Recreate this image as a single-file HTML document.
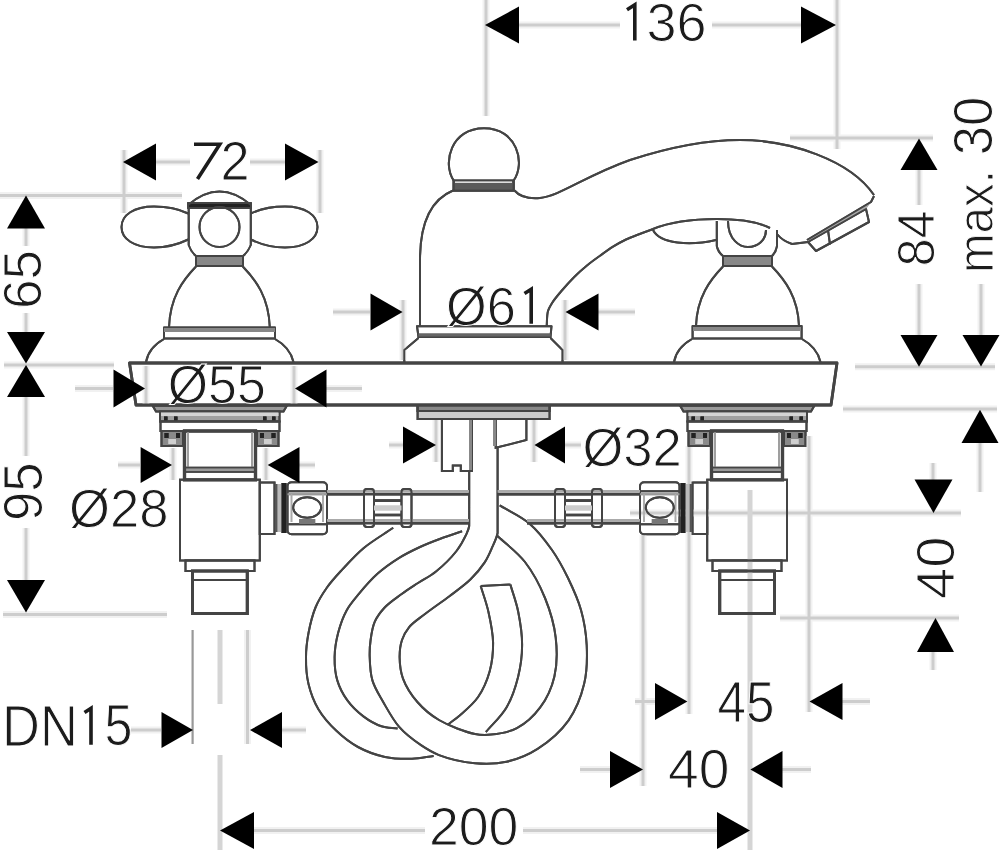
<!DOCTYPE html>
<html><head><meta charset="utf-8"><style>
html,body{margin:0;padding:0;background:#fff;}
svg{display:block;}
#wrap{width:1000px;height:850px;}
text{font-family:"Liberation Sans",sans-serif;fill:#1c1c1c;stroke:#fff;stroke-width:1px;}
</style></head><body><div id="wrap">
<svg width="1000" height="850" viewBox="0 0 1000 850">
<!-- UNDER DECK -->
<g id="under" stroke="#444" stroke-width="2" fill="none">
<!-- hose -->
<g id="hose"><path d="M393.2 527.8C383.3 534.6 372.3 540.9 363.5 548.2C355.5 554.9 348.8 562.5 342.4 569.4C336.7 575.6 331.3 581.3 326.8 587.8C322.4 594.1 318.5 600.3 315.5 607.5C312.3 615.3 310.1 624.6 308.5 633.0C307.0 641.1 306.0 648.8 306.0 657.0C305.9 665.7 306.4 675.3 308.5 684.0C310.6 692.7 313.8 701.5 318.4 709.2C323.1 717.1 329.7 724.5 336.4 730.8C342.9 737.0 350.1 742.7 358.0 747.0C366.2 751.5 375.9 755.0 385.0 756.9C393.9 758.8 403.5 758.9 412.0 758.7C419.6 758.5 426.4 756.9 433.6 756.0"/><path d="M462.1 531.3C455.1 533.7 448.0 535.9 441.0 538.5C434.0 541.1 426.9 543.8 420.0 547.0C412.9 550.3 405.7 553.8 398.8 558.1C391.6 562.6 384.2 567.8 377.7 573.6C371.1 579.5 364.7 586.9 359.3 593.4C354.5 599.2 350.1 604.1 346.6 610.4C342.9 617.2 340.1 625.2 338.1 633.0C336.1 640.8 334.7 649.0 334.6 657.0C334.5 664.8 335.1 673.1 337.3 680.4C339.4 687.5 342.9 694.2 347.2 700.2C351.6 706.3 357.5 712.0 363.4 716.4C369.0 720.6 375.4 724.3 381.4 726.3C386.8 728.1 392.2 727.8 397.6 728.6"/><path d="M469.2 470V526C468.7 529.2 467.8 531.0 466.4 534.1C464.2 538.8 460.8 545.4 456.5 551.0C451.2 557.8 442.9 565.9 436.0 571.5C430.1 576.3 423.8 579.2 418.0 583.0C412.4 586.7 407.1 590.0 401.7 594.0C396.0 598.2 389.3 602.6 384.7 607.5C380.6 611.9 377.1 616.4 374.8 621.7C372.4 627.2 371.4 634.0 370.6 640.0C369.8 645.7 369.5 650.9 369.7 657.0C369.9 664.2 370.2 672.9 372.4 680.4C374.6 688.0 379.0 694.6 383.2 702.0C387.9 710.2 393.0 719.9 399.4 727.2C405.6 734.3 413.9 740.4 421.0 745.2C427.1 749.3 431.7 752.3 439.0 755.1C448.7 758.8 463.3 762.2 475.0 763.2C485.8 764.1 496.2 764.0 506.5 761.7C517.1 759.3 527.8 755.1 537.6 748.8C548.6 741.8 560.8 731.3 568.6 720.3C576.1 709.6 581.1 696.6 584.1 684.1C587.1 671.6 587.3 657.9 586.7 645.3C586.1 633.2 584.2 621.3 581.0 610.0C577.9 598.9 572.9 588.2 568.0 578.0C563.2 568.2 558.3 558.9 552.0 550.0C545.5 540.7 538.0 530.8 529.3 523.4C520.6 516.0 509.6 511.4 499.7 505.4"/><path d="M497.6 447V533C496.6 538.2 494.0 543.3 491.8 548.2C489.7 553.1 487.8 557.6 484.7 562.4C481.0 568.0 476.1 573.9 470.6 579.3C464.5 585.3 456.8 590.6 449.4 596.2C441.6 602.1 432.2 608.4 425.0 614.0C419.0 618.7 412.9 622.5 409.0 627.3C405.7 631.3 403.6 635.3 402.0 640.0C400.3 645.1 399.6 651.0 399.6 657.0C399.7 663.8 400.4 671.5 403.0 678.6C405.9 686.5 411.4 695.1 417.4 702.0C423.4 709.0 430.4 714.9 439.0 720.0C449.1 725.9 465.3 732.0 475.0 734.0C481.3 735.3 485.1 735.2 491.0 734.6C498.6 733.8 509.0 732.3 516.9 728.1C525.5 723.6 534.0 715.8 540.2 707.4C546.7 698.7 551.8 687.6 554.4 676.4C557.2 664.5 557.2 650.5 555.7 637.6C554.2 624.4 550.1 610.6 545.0 598.0C539.9 585.4 533.1 572.5 525.0 562.0C517.2 552.0 506.7 544.7 497.6 536.0"/><path d="M448.0 724.5C452.0 721.4 455.7 719.0 460.0 715.2C465.6 710.3 473.2 704.1 478.1 697.0C483.2 689.5 487.2 680.2 489.7 671.2C492.2 662.1 493.2 652.5 493.1 642.8C492.9 632.7 490.6 621.5 488.4 611.7C486.4 602.6 483.3 594.6 480.7 586.0"/><path d="M480.7 586L510.4 584.6"/><path d="M510.4 584.6C513.0 593.6 516.3 602.1 518.2 611.7C520.3 622.2 522.2 634.3 522.1 645.3C522.1 655.9 520.7 666.2 518.2 676.4C515.6 686.9 512.0 698.1 506.5 707.4C501.1 716.6 492.8 723.8 485.9 732.0"/></g>
<path d="M152.5 405.5L156.0 411.5H283.5L287.0 405.5Z" fill="#9a9a9a"/>
<rect x="160.0" y="411.5" width="119.5" height="10.0" fill="#a0a0a0"/>
<rect x="161.0" y="412.5" width="117.5" height="3.5" fill="#d4d4d4" stroke="none"/>
<rect x="164.0" y="416.5" width="3.5" height="4.0" fill="#222" stroke="none"/>
<rect x="174.0" y="416.5" width="3.5" height="4.0" fill="#222" stroke="none"/>
<rect x="263.0" y="416.5" width="3.5" height="4.0" fill="#222" stroke="none"/>
<rect x="272.0" y="416.5" width="3.5" height="4.0" fill="#222" stroke="none"/>
<rect x="160.5" y="421.5" width="119.0" height="9.5" fill="#fff"/>
<rect x="161.5" y="431" width="21.5" height="15.0" fill="#8a8a8a"/>
<rect x="164.5" y="433" width="4.0" height="5.0" fill="#222" stroke="none"/>
<rect x="176.0" y="433" width="4.0" height="5.0" fill="#222" stroke="none"/>
<rect x="168.5" y="439" width="7.5" height="5.0" fill="#cfcfcf" stroke="none"/>
<rect x="257.0" y="431" width="21.5" height="15.0" fill="#8a8a8a"/>
<rect x="260.0" y="433" width="4.0" height="5.0" fill="#222" stroke="none"/>
<rect x="271.5" y="433" width="4.0" height="5.0" fill="#222" stroke="none"/>
<rect x="264.0" y="439" width="7.5" height="5.0" fill="#cfcfcf" stroke="none"/>
<rect x="184.5" y="431" width="71.0" height="49.0" fill="#fff" stroke-width="3.2"/>
<path d="M188.0 432L188.0 467" stroke="#999" stroke-width="1.5"/>
<path d="M252.0 432L252.0 467" stroke="#999" stroke-width="1.5"/>
<rect x="184.5" y="467.5" width="71.0" height="4.5" fill="#9a9a9a" stroke-width="1.5"/>
<rect x="180.0" y="479.7" width="79.8" height="80.8" fill="#fff"/>
<rect x="259.8" y="482.5" width="14.7" height="51.5" fill="#fff"/>
<rect x="275.0" y="484" width="2.6" height="48.0" fill="#555" stroke="none"/>
<rect x="277.6" y="484" width="3.9" height="48.0" fill="#bbb" stroke="none"/>
<rect x="281.5" y="483" width="5.0" height="50.0" fill="#222" stroke="none"/>
<rect x="287.5" y="482.3" width="39.5" height="52" rx="4" fill="#fff"/>
<path d="M287.5 491.3H327.0M287.5 524.3H327.0" stroke-width="2"/>
<path d="M287.5 494.3H327.0" stroke="#999" stroke-width="2"/>
<path d="M291.5 494V522M323.0 494V522" stroke="#aaa" stroke-width="1.6"/>
<ellipse cx="307.2" cy="507.5" rx="14" ry="10.3" stroke-width="2"/>
<rect x="299.2" y="519" width="16" height="5" fill="#777" stroke="none"/>
<rect x="185.5" y="560.5" width="69.0" height="10.5" fill="#fff"/>
<rect x="192.5" y="571" width="54.8" height="42.5" fill="#fff" stroke-width="3"/>
<path d="M192.5 580L247.3 580" /><path d="M814.5 405.5L811.0 411.5H683.5L680.0 405.5Z" fill="#9a9a9a"/>
<rect x="687.5" y="411.5" width="119.5" height="10.0" fill="#a0a0a0"/>
<rect x="688.5" y="412.5" width="117.5" height="3.5" fill="#d4d4d4" stroke="none"/>
<rect x="799.5" y="416.5" width="3.5" height="4.0" fill="#222" stroke="none"/>
<rect x="789.5" y="416.5" width="3.5" height="4.0" fill="#222" stroke="none"/>
<rect x="700.5" y="416.5" width="3.5" height="4.0" fill="#222" stroke="none"/>
<rect x="691.5" y="416.5" width="3.5" height="4.0" fill="#222" stroke="none"/>
<rect x="687.5" y="421.5" width="119.0" height="9.5" fill="#fff"/>
<rect x="784.0" y="431" width="21.5" height="15.0" fill="#8a8a8a"/>
<rect x="798.5" y="433" width="4.0" height="5.0" fill="#222" stroke="none"/>
<rect x="787.0" y="433" width="4.0" height="5.0" fill="#222" stroke="none"/>
<rect x="791.0" y="439" width="7.5" height="5.0" fill="#cfcfcf" stroke="none"/>
<rect x="688.5" y="431" width="21.5" height="15.0" fill="#8a8a8a"/>
<rect x="703.0" y="433" width="4.0" height="5.0" fill="#222" stroke="none"/>
<rect x="691.5" y="433" width="4.0" height="5.0" fill="#222" stroke="none"/>
<rect x="695.5" y="439" width="7.5" height="5.0" fill="#cfcfcf" stroke="none"/>
<rect x="711.5" y="431" width="71.0" height="49.0" fill="#fff" stroke-width="3.2"/>
<path d="M779.0 432L779.0 467" stroke="#999" stroke-width="1.5"/>
<path d="M715.0 432L715.0 467" stroke="#999" stroke-width="1.5"/>
<rect x="711.5" y="467.5" width="71.0" height="4.5" fill="#9a9a9a" stroke-width="1.5"/>
<rect x="707.2" y="479.7" width="79.8" height="80.8" fill="#fff"/>
<rect x="692.5" y="482.5" width="14.7" height="51.5" fill="#fff"/>
<rect x="689.4" y="484" width="2.6" height="48.0" fill="#555" stroke="none"/>
<rect x="685.5" y="484" width="3.9" height="48.0" fill="#bbb" stroke="none"/>
<rect x="680.5" y="483" width="5.0" height="50.0" fill="#222" stroke="none"/>
<rect x="640.0" y="482.3" width="39.5" height="52" rx="4" fill="#fff"/>
<path d="M640.0 491.3H679.5M640.0 524.3H679.5" stroke-width="2"/>
<path d="M640.0 494.3H679.5" stroke="#999" stroke-width="2"/>
<path d="M644.0 494V522M675.5 494V522" stroke="#aaa" stroke-width="1.6"/>
<ellipse cx="659.8" cy="507.5" rx="14" ry="10.3" stroke-width="2"/>
<rect x="651.8" y="519" width="16" height="5" fill="#777" stroke="none"/>
<rect x="712.5" y="560.5" width="69.0" height="10.5" fill="#fff"/>
<rect x="719.7" y="571" width="54.8" height="42.5" fill="#fff" stroke-width="3"/>
<path d="M774.5 580L719.7 580" />
<!-- center stem -->
<rect x="417.6" y="405" width="132" height="14" fill="#ccc"/>
<rect x="417.6" y="405" width="132" height="6" fill="#888"/>
<path d="M441.9 419V471H452.8V465.4H460.8V471H472V419"/>
<path d="M495.7 419V447.8L526.4 440V419"/>
<path d="M470.5 420V470M494.5 420V446" stroke="#888" stroke-width="3"/>
<!-- pipes -->
<path d="M327 491.3H469M327 520.4H469M497.6 491.3H640M527 520.4H640" stroke="#aaa" stroke-width="2.8"/>
<path d="M327 494.2H469M327 523.2H469M497.6 494.2H640M527 523.2H640" stroke-width="2.6"/>
<rect x="364" y="489" width="10" height="38" rx="3" fill="#fff"/>
<rect x="401.5" y="489" width="10" height="38" rx="3" fill="#fff"/>
<path d="M374 500.6H401.5M374 515H401.5" stroke-width="2.6"/><path d="M374 508H401.5" stroke="#ccc" stroke-width="5"/>
<rect x="555" y="489" width="10" height="38" rx="3" fill="#fff"/>
<rect x="592" y="489" width="10" height="38" rx="3" fill="#fff"/>
<path d="M565 500.6H592M565 515H592" stroke-width="2.6"/><path d="M565 508H592" stroke="#ccc" stroke-width="5"/>
</g>
<!-- DECK + ABOVE -->
<g id="draw" stroke="#444" stroke-width="2" fill="none" stroke-linejoin="round">
<path d="M129.5 363H837L831 405H136Z" fill="#fff" stroke-width="2.8"/>
<!-- left handle -->
<path d="M188 205Q219.5 178 251 205"/>
<rect x="188" y="203" width="63" height="5" fill="#222"/>
<path d="M188.7 208V245Q191 252 196 256M250.8 208V245Q248 252 243 256"/>
<circle cx="219.5" cy="227" r="20"/>
<path d="M188.2 213.5C181 210 171 206.5 154 206.5C134 206.5 121.5 215 121.5 227C121.5 239 134 247.5 154 247.5C171 247.5 181 243 188.2 239.5"/>
<path d="M250.8 213.5C258 210 268 206.5 285 206.5C305 206.5 317.5 215 317.5 227C317.5 239 305 247.5 285 247.5C268 247.5 258 243 250.8 239.5"/>
<rect x="196" y="256" width="47" height="10" fill="#888"/>
<path d="M196 266.5C183 280 170 297 169 327.5M242.8 266.5C255.8 280 268.8 297 269.8 327.5"/>
<rect x="164" y="327.5" width="111" height="11"/>
<path d="M164 330H275" stroke="#888" stroke-width="4"/>
<path d="M164 339C155 344 148 351 146 362M275 339C284 344 291 351 293.5 362"/>
<!-- center body -->
<path d="M453.7 180.5C442 163 451 128.2 484 128.2C517 128.2 526 163 513.6 180.5"/>
<rect x="453.5" y="180.5" width="60.3" height="10.3" fill="#5a5a5a"/>
<path d="M455 182.3H512" stroke="#ddd" stroke-width="1.5"/>
<path d="M453 190.5C430 200 420 225 420 260V326"/>
<path d="M514.5 190.5C520 197 528 199 540 198C560 196 585 176 630 160C670 147 705 140 740 140C790 140 850 160 874 195"/>
<path d="M546.7 326C547.1 321 546.8 315.1 548 311C548.9 307.9 550.2 306 551.9 303.2C554.2 299.6 557.6 295.5 561 291.5C564.9 286.9 569.6 281.6 574 277.2C578.2 273 582.6 269.1 587 265.5C591.3 262 595.6 258.9 600 255.8C604.3 252.7 608.6 249.5 613 246.7C617.3 244 621.6 241.6 626 239.5C630.3 237.5 634.6 236 639 234.3C643.6 232.5 648.3 230.8 653 229"/>
<path d="M417 326.2H551.5L550.5 337H418.5Z" fill="#fff"/>
<path d="M418.5 335H550.5" stroke="#666" stroke-width="3"/>
<path d="M418.5 338L404.3 350V362M550.5 338L562.5 350V362" fill="#fff"/>
<!-- right handle side -->
<path d="M653 229C670 222 695 219 717 219C740 219 758 222 770 228"/>
<path d="M653 230C660 244 690 246 716 240"/>
<path d="M716.8 221V246Q718 252 723 256M777 230V246Q776 252 772 256"/>
<path d="M728 221C728 240 740 247 748 247C758 247 766 240 766 230"/>
<rect x="723" y="256" width="49" height="10" fill="#888"/>
<path d="M723 266.5C710 280 697 297 696 326M772 266.5C785 280 798 297 799 326"/>
<rect x="692.6" y="326" width="109" height="12.6"/>
<path d="M693 329H801" stroke="#888" stroke-width="4"/>
<path d="M692 339C683 344 676 351 674 362M802 339C811 344 818 351 820.5 362"/>
<!-- aerator -->
<path d="M871 202L866 209L808 242L807 240Z" fill="#aaa" stroke="none"/>
<path d="M874 196L871 202L807 240"/>
<path d="M866 209L869 222L816 251L808 242Z"/>
<path d="M828 230L830 244.5"/>
<path d="M808 242L792 244C786 242 781 239 777 234"/>
</g>
<!-- DIMENSION / EXTENSION LINES -->
<defs><g id="dimp" fill="none">
<path d="M124 150V213M320 150V213"/>
<path d="M156 162H190M250 162H285"/>
<path d="M486 0V116M837 0V149"/>
<path d="M519 25H620M712 25H801"/>
<path d="M0 195.5H182M4 365H114M3 614.5H167"/>
<path d="M26 228V246M26 313V332M26 397V456M26 528V580"/>
<path d="M75 388.5H113M326 388.5H362M146 366V404M294 366V404"/>
<path d="M333 312H370M598 312H635M403 300V360M565 300V360"/>
<path d="M118 465H140M299 465H315M173 448V480M266 448V480"/>
<path d="M389 445H403M565 445H581M436 420V462M534 420V462"/>
<path d="M790 138H933M855 366.7H995M843 409H997"/>
<path d="M919 170V205M919 284V335M981 284V335M980 443V492"/>
<path d="M630 513H961M780 618H959M933 463V480M933 652V670"/>
<path d="M247.5 630V744"/>
<path d="M131 730H161M282 730H306"/>
<path d="M254 830.5H425M523 830.5H717"/>
<path d="M689 446V714M809 436V712M643 535V786"/>
<path d="M635 701.4H655M842 701.4H870M580 769.5H610M782 769.5H811"/>
</g></defs>
<use href="#dimp" stroke="#f1f1f1" stroke-width="7"/>
<use href="#dimp" stroke="#cdcdcd" stroke-width="3"/>
<path d="M220 630V704M220 755V850M750 490V850" stroke="#d5d5d5" stroke-width="5" fill="none"/>
<path d="M192.6 630V744" stroke="#999" stroke-width="2.2" fill="none"/>
<!-- ARROWS -->
<g id="strokecopy"><g  stroke="#444" stroke-width="2" fill="none">
<!-- hose -->
<g ><path d="M393.2 527.8C383.3 534.6 372.3 540.9 363.5 548.2C355.5 554.9 348.8 562.5 342.4 569.4C336.7 575.6 331.3 581.3 326.8 587.8C322.4 594.1 318.5 600.3 315.5 607.5C312.3 615.3 310.1 624.6 308.5 633.0C307.0 641.1 306.0 648.8 306.0 657.0C305.9 665.7 306.4 675.3 308.5 684.0C310.6 692.7 313.8 701.5 318.4 709.2C323.1 717.1 329.7 724.5 336.4 730.8C342.9 737.0 350.1 742.7 358.0 747.0C366.2 751.5 375.9 755.0 385.0 756.9C393.9 758.8 403.5 758.9 412.0 758.7C419.6 758.5 426.4 756.9 433.6 756.0"/><path d="M462.1 531.3C455.1 533.7 448.0 535.9 441.0 538.5C434.0 541.1 426.9 543.8 420.0 547.0C412.9 550.3 405.7 553.8 398.8 558.1C391.6 562.6 384.2 567.8 377.7 573.6C371.1 579.5 364.7 586.9 359.3 593.4C354.5 599.2 350.1 604.1 346.6 610.4C342.9 617.2 340.1 625.2 338.1 633.0C336.1 640.8 334.7 649.0 334.6 657.0C334.5 664.8 335.1 673.1 337.3 680.4C339.4 687.5 342.9 694.2 347.2 700.2C351.6 706.3 357.5 712.0 363.4 716.4C369.0 720.6 375.4 724.3 381.4 726.3C386.8 728.1 392.2 727.8 397.6 728.6"/><path d="M469.2 470V526C468.7 529.2 467.8 531.0 466.4 534.1C464.2 538.8 460.8 545.4 456.5 551.0C451.2 557.8 442.9 565.9 436.0 571.5C430.1 576.3 423.8 579.2 418.0 583.0C412.4 586.7 407.1 590.0 401.7 594.0C396.0 598.2 389.3 602.6 384.7 607.5C380.6 611.9 377.1 616.4 374.8 621.7C372.4 627.2 371.4 634.0 370.6 640.0C369.8 645.7 369.5 650.9 369.7 657.0C369.9 664.2 370.2 672.9 372.4 680.4C374.6 688.0 379.0 694.6 383.2 702.0C387.9 710.2 393.0 719.9 399.4 727.2C405.6 734.3 413.9 740.4 421.0 745.2C427.1 749.3 431.7 752.3 439.0 755.1C448.7 758.8 463.3 762.2 475.0 763.2C485.8 764.1 496.2 764.0 506.5 761.7C517.1 759.3 527.8 755.1 537.6 748.8C548.6 741.8 560.8 731.3 568.6 720.3C576.1 709.6 581.1 696.6 584.1 684.1C587.1 671.6 587.3 657.9 586.7 645.3C586.1 633.2 584.2 621.3 581.0 610.0C577.9 598.9 572.9 588.2 568.0 578.0C563.2 568.2 558.3 558.9 552.0 550.0C545.5 540.7 538.0 530.8 529.3 523.4C520.6 516.0 509.6 511.4 499.7 505.4"/><path d="M497.6 447V533C496.6 538.2 494.0 543.3 491.8 548.2C489.7 553.1 487.8 557.6 484.7 562.4C481.0 568.0 476.1 573.9 470.6 579.3C464.5 585.3 456.8 590.6 449.4 596.2C441.6 602.1 432.2 608.4 425.0 614.0C419.0 618.7 412.9 622.5 409.0 627.3C405.7 631.3 403.6 635.3 402.0 640.0C400.3 645.1 399.6 651.0 399.6 657.0C399.7 663.8 400.4 671.5 403.0 678.6C405.9 686.5 411.4 695.1 417.4 702.0C423.4 709.0 430.4 714.9 439.0 720.0C449.1 725.9 465.3 732.0 475.0 734.0C481.3 735.3 485.1 735.2 491.0 734.6C498.6 733.8 509.0 732.3 516.9 728.1C525.5 723.6 534.0 715.8 540.2 707.4C546.7 698.7 551.8 687.6 554.4 676.4C557.2 664.5 557.2 650.5 555.7 637.6C554.2 624.4 550.1 610.6 545.0 598.0C539.9 585.4 533.1 572.5 525.0 562.0C517.2 552.0 506.7 544.7 497.6 536.0"/><path d="M448.0 724.5C452.0 721.4 455.7 719.0 460.0 715.2C465.6 710.3 473.2 704.1 478.1 697.0C483.2 689.5 487.2 680.2 489.7 671.2C492.2 662.1 493.2 652.5 493.1 642.8C492.9 632.7 490.6 621.5 488.4 611.7C486.4 602.6 483.3 594.6 480.7 586.0"/><path d="M480.7 586L510.4 584.6"/><path d="M510.4 584.6C513.0 593.6 516.3 602.1 518.2 611.7C520.3 622.2 522.2 634.3 522.1 645.3C522.1 655.9 520.7 666.2 518.2 676.4C515.6 686.9 512.0 698.1 506.5 707.4C501.1 716.6 492.8 723.8 485.9 732.0"/></g>
<path d="M152.5 405.5L156.0 411.5H283.5L287.0 405.5Z" fill="none"/>
<rect x="160.0" y="411.5" width="119.5" height="10.0" fill="none"/>
<rect x="161.0" y="412.5" width="117.5" height="3.5" fill="#d4d4d4" stroke="none"/>
<rect x="164.0" y="416.5" width="3.5" height="4.0" fill="#222" stroke="none"/>
<rect x="174.0" y="416.5" width="3.5" height="4.0" fill="#222" stroke="none"/>
<rect x="263.0" y="416.5" width="3.5" height="4.0" fill="#222" stroke="none"/>
<rect x="272.0" y="416.5" width="3.5" height="4.0" fill="#222" stroke="none"/>
<rect x="160.5" y="421.5" width="119.0" height="9.5" fill="none"/>
<rect x="161.5" y="431" width="21.5" height="15.0" fill="none"/>
<rect x="164.5" y="433" width="4.0" height="5.0" fill="#222" stroke="none"/>
<rect x="176.0" y="433" width="4.0" height="5.0" fill="#222" stroke="none"/>
<rect x="168.5" y="439" width="7.5" height="5.0" fill="#cfcfcf" stroke="none"/>
<rect x="257.0" y="431" width="21.5" height="15.0" fill="none"/>
<rect x="260.0" y="433" width="4.0" height="5.0" fill="#222" stroke="none"/>
<rect x="271.5" y="433" width="4.0" height="5.0" fill="#222" stroke="none"/>
<rect x="264.0" y="439" width="7.5" height="5.0" fill="#cfcfcf" stroke="none"/>
<rect x="184.5" y="431" width="71.0" height="49.0" fill="none" stroke-width="3.2"/>
<path d="M188.0 432L188.0 467" stroke="#999" stroke-width="1.5"/>
<path d="M252.0 432L252.0 467" stroke="#999" stroke-width="1.5"/>
<rect x="184.5" y="467.5" width="71.0" height="4.5" fill="none" stroke-width="1.5"/>
<rect x="180.0" y="479.7" width="79.8" height="80.8" fill="none"/>
<rect x="259.8" y="482.5" width="14.7" height="51.5" fill="none"/>
<rect x="275.0" y="484" width="2.6" height="48.0" fill="#555" stroke="none"/>
<rect x="277.6" y="484" width="3.9" height="48.0" fill="#bbb" stroke="none"/>
<rect x="281.5" y="483" width="5.0" height="50.0" fill="#222" stroke="none"/>
<rect x="287.5" y="482.3" width="39.5" height="52" rx="4" fill="none"/>
<path d="M287.5 491.3H327.0M287.5 524.3H327.0" stroke-width="2"/>
<path d="M287.5 494.3H327.0" stroke="#999" stroke-width="2"/>
<path d="M291.5 494V522M323.0 494V522" stroke="#aaa" stroke-width="1.6"/>
<ellipse cx="307.2" cy="507.5" rx="14" ry="10.3" stroke-width="2"/>
<rect x="299.2" y="519" width="16" height="5" fill="#777" stroke="none"/>
<rect x="185.5" y="560.5" width="69.0" height="10.5" fill="none"/>
<rect x="192.5" y="571" width="54.8" height="42.5" fill="none" stroke-width="3"/>
<path d="M192.5 580L247.3 580" /><path d="M814.5 405.5L811.0 411.5H683.5L680.0 405.5Z" fill="none"/>
<rect x="687.5" y="411.5" width="119.5" height="10.0" fill="none"/>
<rect x="688.5" y="412.5" width="117.5" height="3.5" fill="#d4d4d4" stroke="none"/>
<rect x="799.5" y="416.5" width="3.5" height="4.0" fill="#222" stroke="none"/>
<rect x="789.5" y="416.5" width="3.5" height="4.0" fill="#222" stroke="none"/>
<rect x="700.5" y="416.5" width="3.5" height="4.0" fill="#222" stroke="none"/>
<rect x="691.5" y="416.5" width="3.5" height="4.0" fill="#222" stroke="none"/>
<rect x="687.5" y="421.5" width="119.0" height="9.5" fill="none"/>
<rect x="784.0" y="431" width="21.5" height="15.0" fill="none"/>
<rect x="798.5" y="433" width="4.0" height="5.0" fill="#222" stroke="none"/>
<rect x="787.0" y="433" width="4.0" height="5.0" fill="#222" stroke="none"/>
<rect x="791.0" y="439" width="7.5" height="5.0" fill="#cfcfcf" stroke="none"/>
<rect x="688.5" y="431" width="21.5" height="15.0" fill="none"/>
<rect x="703.0" y="433" width="4.0" height="5.0" fill="#222" stroke="none"/>
<rect x="691.5" y="433" width="4.0" height="5.0" fill="#222" stroke="none"/>
<rect x="695.5" y="439" width="7.5" height="5.0" fill="#cfcfcf" stroke="none"/>
<rect x="711.5" y="431" width="71.0" height="49.0" fill="none" stroke-width="3.2"/>
<path d="M779.0 432L779.0 467" stroke="#999" stroke-width="1.5"/>
<path d="M715.0 432L715.0 467" stroke="#999" stroke-width="1.5"/>
<rect x="711.5" y="467.5" width="71.0" height="4.5" fill="none" stroke-width="1.5"/>
<rect x="707.2" y="479.7" width="79.8" height="80.8" fill="none"/>
<rect x="692.5" y="482.5" width="14.7" height="51.5" fill="none"/>
<rect x="689.4" y="484" width="2.6" height="48.0" fill="#555" stroke="none"/>
<rect x="685.5" y="484" width="3.9" height="48.0" fill="#bbb" stroke="none"/>
<rect x="680.5" y="483" width="5.0" height="50.0" fill="#222" stroke="none"/>
<rect x="640.0" y="482.3" width="39.5" height="52" rx="4" fill="none"/>
<path d="M640.0 491.3H679.5M640.0 524.3H679.5" stroke-width="2"/>
<path d="M640.0 494.3H679.5" stroke="#999" stroke-width="2"/>
<path d="M644.0 494V522M675.5 494V522" stroke="#aaa" stroke-width="1.6"/>
<ellipse cx="659.8" cy="507.5" rx="14" ry="10.3" stroke-width="2"/>
<rect x="651.8" y="519" width="16" height="5" fill="#777" stroke="none"/>
<rect x="712.5" y="560.5" width="69.0" height="10.5" fill="none"/>
<rect x="719.7" y="571" width="54.8" height="42.5" fill="none" stroke-width="3"/>
<path d="M774.5 580L719.7 580" />
<!-- center stem -->
<rect x="417.6" y="405" width="132" height="14" fill="none"/>
<rect x="417.6" y="405" width="132" height="6" fill="none"/>
<path d="M441.9 419V471H452.8V465.4H460.8V471H472V419"/>
<path d="M495.7 419V447.8L526.4 440V419"/>
<path d="M470.5 420V470M494.5 420V446" stroke="#888" stroke-width="3"/>
<!-- pipes -->
<path d="M327 491.3H469M327 520.4H469M497.6 491.3H640M527 520.4H640" stroke="#aaa" stroke-width="2.8"/>
<path d="M327 494.2H469M327 523.2H469M497.6 494.2H640M527 523.2H640" stroke-width="2.6"/>
<rect x="364" y="489" width="10" height="38" rx="3" fill="none"/>
<rect x="401.5" y="489" width="10" height="38" rx="3" fill="none"/>
<path d="M374 500.6H401.5M374 515H401.5" stroke-width="2.6"/><path d="M374 508H401.5" stroke="#ccc" stroke-width="5"/>
<rect x="555" y="489" width="10" height="38" rx="3" fill="none"/>
<rect x="592" y="489" width="10" height="38" rx="3" fill="none"/>
<path d="M565 500.6H592M565 515H592" stroke-width="2.6"/><path d="M565 508H592" stroke="#ccc" stroke-width="5"/>
</g>
<!-- DECK + ABOVE -->
<g  stroke="#444" stroke-width="2" fill="none" stroke-linejoin="round">
<path d="M129.5 363H837L831 405H136Z" fill="none" stroke-width="2.8"/>
<!-- left handle -->
<path d="M188 205Q219.5 178 251 205"/>
<rect x="188" y="203" width="63" height="5" fill="none"/>
<path d="M188.7 208V245Q191 252 196 256M250.8 208V245Q248 252 243 256"/>
<circle cx="219.5" cy="227" r="20"/>
<path d="M188.2 213.5C181 210 171 206.5 154 206.5C134 206.5 121.5 215 121.5 227C121.5 239 134 247.5 154 247.5C171 247.5 181 243 188.2 239.5"/>
<path d="M250.8 213.5C258 210 268 206.5 285 206.5C305 206.5 317.5 215 317.5 227C317.5 239 305 247.5 285 247.5C268 247.5 258 243 250.8 239.5"/>
<rect x="196" y="256" width="47" height="10" fill="none"/>
<path d="M196 266.5C183 280 170 297 169 327.5M242.8 266.5C255.8 280 268.8 297 269.8 327.5"/>
<rect x="164" y="327.5" width="111" height="11"/>
<path d="M164 330H275" stroke="#888" stroke-width="4"/>
<path d="M164 339C155 344 148 351 146 362M275 339C284 344 291 351 293.5 362"/>
<!-- center body -->
<path d="M453.7 180.5C442 163 451 128.2 484 128.2C517 128.2 526 163 513.6 180.5"/>
<rect x="453.5" y="180.5" width="60.3" height="10.3" fill="none"/>
<path d="M455 182.3H512" stroke="#ddd" stroke-width="1.5"/>
<path d="M453 190.5C430 200 420 225 420 260V326"/>
<path d="M514.5 190.5C520 197 528 199 540 198C560 196 585 176 630 160C670 147 705 140 740 140C790 140 850 160 874 195"/>
<path d="M546.7 326C547.1 321 546.8 315.1 548 311C548.9 307.9 550.2 306 551.9 303.2C554.2 299.6 557.6 295.5 561 291.5C564.9 286.9 569.6 281.6 574 277.2C578.2 273 582.6 269.1 587 265.5C591.3 262 595.6 258.9 600 255.8C604.3 252.7 608.6 249.5 613 246.7C617.3 244 621.6 241.6 626 239.5C630.3 237.5 634.6 236 639 234.3C643.6 232.5 648.3 230.8 653 229"/>
<path d="M417 326.2H551.5L550.5 337H418.5Z" fill="none"/>
<path d="M418.5 335H550.5" stroke="#666" stroke-width="3"/>
<path d="M418.5 338L404.3 350V362M550.5 338L562.5 350V362" fill="none"/>
<!-- right handle side -->
<path d="M653 229C670 222 695 219 717 219C740 219 758 222 770 228"/>
<path d="M653 230C660 244 690 246 716 240"/>
<path d="M716.8 221V246Q718 252 723 256M777 230V246Q776 252 772 256"/>
<path d="M728 221C728 240 740 247 748 247C758 247 766 240 766 230"/>
<rect x="723" y="256" width="49" height="10" fill="none"/>
<path d="M723 266.5C710 280 697 297 696 326M772 266.5C785 280 798 297 799 326"/>
<rect x="692.6" y="326" width="109" height="12.6"/>
<path d="M693 329H801" stroke="#888" stroke-width="4"/>
<path d="M692 339C683 344 676 351 674 362M802 339C811 344 818 351 820.5 362"/>
<!-- aerator -->
<path d="M871 202L866 209L808 242L807 240Z" fill="#aaa" stroke="none"/>
<path d="M874 196L871 202L807 240"/>
<path d="M866 209L869 222L816 251L808 242Z"/>
<path d="M828 230L830 244.5"/>
<path d="M808 242L792 244C786 242 781 239 777 234"/>
</g>
<!-- DIMENSION / EXTENSION LINES -->
</g>
<g id="arrows" fill="#000">
<path d="M123 162L156 143.5V180.5Z"/>
<path d="M318.5 162L285 143.5V180.5Z"/>
<path d="M485 25L519 6.5V43.5Z"/>
<path d="M836 25L801 6.5V43.5Z"/>
<path d="M26 195.5L7 228.5H45Z"/>
<path d="M26 363.5L7 332H45Z"/>
<path d="M26 365L7 397H45Z"/>
<path d="M26 612.5L7 580H45Z"/>
<path d="M145 388.5L113.5 369.5V407.5Z"/>
<path d="M295 388.5L326.5 369.5V407.5Z"/>
<path d="M402.6 312L370.5 293.5V330.5Z"/>
<path d="M565.5 312L598.5 293.5V330.5Z"/>
<path d="M172 465L140.6 447V483Z"/>
<path d="M267.7 465L299.5 447V483Z"/>
<path d="M436 445L403 426.5V463.5Z"/>
<path d="M534.5 445L565 426.5V463.5Z"/>
<path d="M919 138.6L900.5 170H937.5Z"/>
<path d="M919 366.7L900.5 335H937.5Z"/>
<path d="M981 366.5L962.5 335H999.5Z"/>
<path d="M980 409.8L961.5 443H998.5Z"/>
<path d="M933.5 513L914.5 479.5H952.5Z"/>
<path d="M935.5 618L917 652H954Z"/>
<path d="M193 730L161.5 712V748Z"/>
<path d="M250 730L282 712V748Z"/>
<path d="M220 830.5L254 812V849Z"/>
<path d="M750 830.5L717 812V849Z"/>
<path d="M687.4 701.4L655 683V720Z"/>
<path d="M809.5 701.4L842.5 683V720Z"/>
<path d="M643 769.5L610 751V788Z"/>
<path d="M750.4 769.5L782.5 751V788Z"/>
</g>
<!-- TEXT -->
<g id="texts">
<text x="220.50" y="180.00" font-size="55.83" textLength="29.09" lengthAdjust="spacingAndGlyphs">2</text>
<text x="646.50" y="40.50" font-size="52.86" textLength="60.08" lengthAdjust="spacingAndGlyphs">36</text>
<text x="167.80" y="403.40" font-size="52.77" textLength="97.95" lengthAdjust="spacingAndGlyphs">Ø55</text>
<text x="446.00" y="324.60" font-size="53.31" textLength="69.87" lengthAdjust="spacingAndGlyphs">Ø6</text>
<text x="69.00" y="526.60" font-size="53.45" textLength="99.56" lengthAdjust="spacingAndGlyphs">Ø28</text>
<text x="582.40" y="466.40" font-size="53.45" textLength="99.43" lengthAdjust="spacingAndGlyphs">Ø32</text>
<text x="2.00" y="745.60" font-size="56.92" textLength="75.80" lengthAdjust="spacingAndGlyphs">DN</text>
<text x="104.60" y="744.60" font-size="56.79" textLength="27.91" lengthAdjust="spacingAndGlyphs">5</text>
<text x="428.90" y="845.20" font-size="53.76" textLength="89.48" lengthAdjust="spacingAndGlyphs">200</text>
<text x="717.50" y="721.50" font-size="56.74" textLength="56.89" lengthAdjust="spacingAndGlyphs">45</text>
<text x="668.00" y="787.50" font-size="55.05" textLength="61.40" lengthAdjust="spacingAndGlyphs">40</text>
<text transform="translate(40.80,309.00) rotate(-90)" font-size="53.87" textLength="58.97" lengthAdjust="spacingAndGlyphs">65</text>
<text transform="translate(42.20,521.00) rotate(-90)" font-size="56.43" textLength="58.66" lengthAdjust="spacingAndGlyphs">95</text>
<text transform="translate(933.90,266.50) rotate(-90)" font-size="51.48" textLength="56.13" lengthAdjust="spacingAndGlyphs">84</text>
<text transform="translate(953.50,599.00) rotate(-90)" font-size="52.86" textLength="62.50" lengthAdjust="spacingAndGlyphs">40</text>
<text transform="translate(993.00,273.00) rotate(-90)" font-size="50.66" textLength="102.86" lengthAdjust="spacingAndGlyphs">max.</text>
<text transform="translate(992.00,155.20) rotate(-90)" font-size="55.75" textLength="58.64" lengthAdjust="spacingAndGlyphs">30</text><path d="M634.8 40.5V4.8L627 9.8M531.2 323.8V289.2L524.5 293.5M91 744.8V708.3L84.5 712.5M194 144.2H219.8L197.5 179" stroke="#1c1c1c" stroke-width="3.6" fill="none" stroke-linejoin="miter"/>
</g>
</svg>
</div></body></html>
